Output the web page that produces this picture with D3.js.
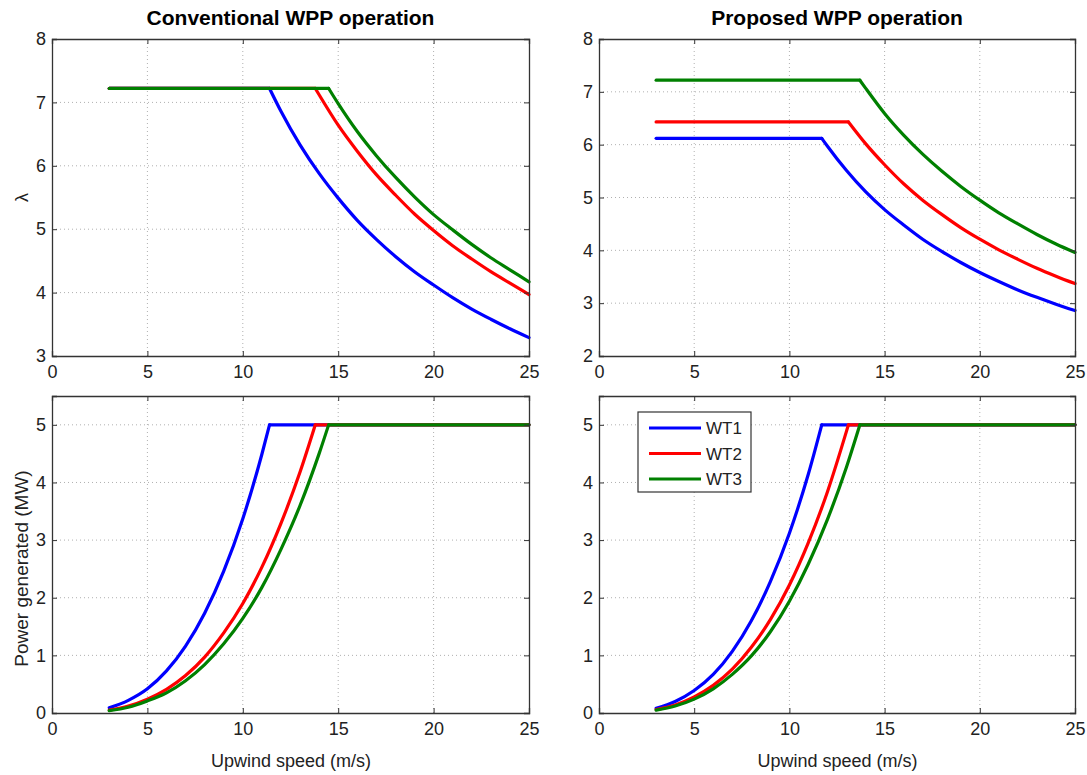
<!DOCTYPE html>
<html>
<head>
<meta charset="utf-8">
<script src="https://cdn.jsdelivr.net/npm/d3@7"></script>
<style>
  body { margin: 0; background: #fff; }
  svg { font-family: "Liberation Sans", Arial, sans-serif; }
  .grid line { stroke: #b0b0b0; stroke-width: 1; stroke-dasharray: 1,3; }
  .tick text { fill: #222; }
</style>
</head>
<body>
<script>
// upwind speed (m/s) vs tip speed ratio / power
const xTicks = [0, 5, 10, 15, 20, 25];
const lambdaTicksConv = [3, 4, 5, 6, 7, 8];
const lambdaTicksProp = [2, 3, 4, 5, 6, 7, 8];
const powerTicks = [0, 1, 2, 3, 4, 5];
const seriesNames = ["WT1", "WT2", "WT3"];
const seriesColors = ["#0000ff", "#ff0000", "#008000"];

// conventional operation - lambda
const convLambdaWT1 = [[3,7.22],[11.4,7.22],[12,6.86],[13,6.33],[14,5.88],[15,5.49],[16,5.14],[17,4.84],[18,4.57],[19,4.33],[20,4.12],[21,3.92],[22,3.74],[23,3.58],[24,3.43],[25,3.29]];
const convLambdaWT2 = [[3,7.22],[13.8,7.22],[14,7.12],[15,6.64],[16,6.23],[17,5.86],[18,5.54],[19,5.24],[20,4.98],[21,4.74],[22,4.53],[23,4.33],[24,4.15],[25,3.97]];
const convLambdaWT3 = [[3,7.22],[14.5,7.22],[15,6.98],[16,6.54],[17,6.16],[18,5.82],[19,5.51],[20,5.23],[21,4.99],[22,4.76],[23,4.55],[24,4.36],[25,4.17]];

// proposed operation - lambda
const propLambdaWT1 = [[3,6.12],[11.7,6.12],[12,5.97],[13,5.51],[14,5.11],[15,4.77],[16,4.48],[17,4.21],[18,3.98],[19,3.77],[20,3.58],[21,3.41],[22,3.25],[23,3.11],[24,2.98],[25,2.86]];
const propLambdaWT2 = [[3,6.43],[13.1,6.43],[14,6.02],[15,5.62],[16,5.26],[17,4.95],[18,4.68],[19,4.43],[20,4.21],[21,4.01],[22,3.83],[23,3.66],[24,3.51],[25,3.37]];
const propLambdaWT3 = [[3,7.22],[13.7,7.22],[14,7.07],[15,6.59],[16,6.18],[17,5.82],[18,5.50],[19,5.21],[20,4.95],[21,4.71],[22,4.50],[23,4.30],[24,4.12],[25,3.96]];

// conventional operation - power (MW)
const convPowerWT1 = [[3,0.09],[4,0.22],[5,0.42],[6,0.73],[7,1.16],[8,1.73],[9,2.46],[10,3.37],[11,4.49],[11.4,5],[25,5]];
const convPowerWT2 = [[3,0.05],[4,0.12],[5,0.24],[6,0.41],[7,0.65],[8,0.97],[9,1.39],[10,1.90],[11,2.53],[12,3.29],[13,4.18],[13.8,5],[25,5]];
const convPowerWT3 = [[3,0.04],[4,0.10],[5,0.21],[6,0.35],[7,0.56],[8,0.84],[9,1.20],[10,1.64],[11,2.18],[12,2.84],[13,3.60],[14,4.50],[14.5,5],[25,5]];

// proposed operation - power (MW)
const propPowerWT1 = [[3,0.08],[4,0.20],[5,0.39],[6,0.67],[7,1.07],[8,1.60],[9,2.28],[10,3.12],[11,4.15],[11.7,5],[25,5]];
const propPowerWT2 = [[3,0.06],[4,0.14],[5,0.28],[6,0.48],[7,0.76],[8,1.14],[9,1.62],[10,2.22],[11,2.96],[12,3.84],[13,4.89],[13.1,5],[25,5]];
const propPowerWT3 = [[3,0.05],[4,0.12],[5,0.24],[6,0.42],[7,0.67],[8,0.99],[9,1.41],[10,1.94],[11,2.59],[12,3.36],[13,4.27],[13.7,5],[25,5]];

const W = 1087, H = 775;
const svg = d3.select("body").append("svg")
    .attr("width", W)
    .attr("height", H);

const cols = [{x0: 52, x1: 529}, {x0: 599, x1: 1075}];
const rows = [{y0: 39, y1: 356}, {y0: 396, y1: 713}];

// split a series into flat runs (drawn straight) and curved runs (drawn smooth)
function splitRuns(pts) {
    const runs = [];
    let cur = [pts[0]], flat = null;
    for (let i = 1; i < pts.length; i++) {
        const f = pts[i][1] === pts[i - 1][1];
        if (flat === null || f === flat) {
            cur.push(pts[i]);
        } else {
            runs.push({flat: flat, pts: cur});
            cur = [pts[i - 1], pts[i]];
        }
        flat = f;
    }
    runs.push({flat: flat, pts: cur});
    return runs;
}

function drawPanel(col, row, yDomain, yTicks, lines) {
    const x = d3.scaleLinear().domain([0, 25]).range([col.x0, col.x1]);
    const y = d3.scaleLinear().domain(yDomain).range([row.y1, row.y0]);
    const g = svg.append("g");

    // dotted grid
    const grid = g.append("g").attr("class", "grid");
    grid.selectAll(".gx").data(xTicks.slice(1, -1)).join("line")
        .attr("x1", d => x(d)).attr("x2", d => x(d))
        .attr("y1", row.y0).attr("y2", row.y1);
    grid.selectAll(".gy").data(yTicks.filter(d => d > yDomain[0] && d < yDomain[1])).join("line")
        .attr("x1", col.x0).attr("x2", col.x1)
        .attr("y1", d => y(d)).attr("y2", d => y(d));

    // data lines
    const straight = d3.line().x(d => x(d[0])).y(d => y(d[1]));
    const smooth = d3.line().x(d => x(d[0])).y(d => y(d[1])).curve(d3.curveMonotoneX);
    lines.forEach((pts, i) => {
        splitRuns(pts).forEach(run => {
            g.append("path")
                .datum(run.pts)
                .attr("d", run.flat ? straight : smooth)
                .attr("fill", "none")
                .attr("stroke", seriesColors[i])
                .attr("stroke-width", 3.2)
                .attr("stroke-linecap", "round");
        });
    });

    // axes, MATLAB style ticks pointing inside
    const xAxis = d3.axisBottom(x).tickValues(xTicks).tickSize(-5).tickPadding(9).tickFormat(d3.format("d"));
    const yAxis = d3.axisLeft(y).tickValues(yTicks).tickSize(-5).tickPadding(6).tickFormat(d3.format("d"));
    const xa = g.append("g").attr("transform", "translate(0," + row.y1 + ")").call(xAxis);
    const ya = g.append("g").attr("transform", "translate(" + col.x0 + ",0)").call(yAxis);
    g.append("g").attr("transform", "translate(0," + row.y0 + ")")
        .call(d3.axisTop(x).tickValues(xTicks).tickSize(-5).tickFormat(""));
    g.append("g").attr("transform", "translate(" + col.x1 + ",0)")
        .call(d3.axisRight(y).tickValues(yTicks).tickSize(-5).tickFormat(""));
    g.selectAll(".domain").attr("stroke", "#333").attr("stroke-width", 1.3);
    g.selectAll(".tick line").attr("stroke", "#333");
    [xa, ya].forEach(a => a.selectAll("text")
        .style("font-size", "18px")
        .style("font-family", "Liberation Sans, Arial, sans-serif"));

    return {x, y};
}

drawPanel(cols[0], rows[0], [3, 8], lambdaTicksConv, [convLambdaWT1, convLambdaWT2, convLambdaWT3]);
drawPanel(cols[1], rows[0], [2, 8], lambdaTicksProp, [propLambdaWT1, propLambdaWT2, propLambdaWT3]);
drawPanel(cols[0], rows[1], [0, 5.5], powerTicks, [convPowerWT1, convPowerWT2, convPowerWT3]);
drawPanel(cols[1], rows[1], [0, 5.5], powerTicks, [propPowerWT1, propPowerWT2, propPowerWT3]);

// titles
svg.append("text").attr("x", (cols[0].x0 + cols[0].x1) / 2).attr("y", 25)
    .attr("text-anchor", "middle").style("font-size", "21px").style("font-weight", "bold")
    .text("Conventional WPP operation");
svg.append("text").attr("x", (cols[1].x0 + cols[1].x1) / 2).attr("y", 25)
    .attr("text-anchor", "middle").style("font-size", "21px").style("font-weight", "bold")
    .text("Proposed WPP operation");

// axis labels
svg.append("text").attr("transform", "translate(28," + ((rows[0].y0 + rows[0].y1) / 2) + ") rotate(-90)")
    .attr("text-anchor", "middle").style("font-size", "18px").attr("fill", "#222")
    .text("λ");
svg.append("text").attr("transform", "translate(28," + ((rows[1].y0 + rows[1].y1) / 2 + 14) + ") rotate(-90)")
    .attr("text-anchor", "middle").style("font-size", "19px").attr("fill", "#222")
    .text("Power generated (MW)");
cols.forEach(c => {
    svg.append("text").attr("x", (c.x0 + c.x1) / 2 + 0.5).attr("y", 767)
        .attr("text-anchor", "middle").style("font-size", "18px").attr("fill", "#222")
        .text("Upwind speed (m/s)");
});

// legend
const lg = svg.append("g").attr("transform", "translate(638,412)");
lg.append("rect").attr("width", 113).attr("height", 80)
    .attr("fill", "#fff").attr("stroke", "#333").attr("stroke-width", 1.2);
seriesNames.forEach((name, i) => {
    const yy = 16 + i * 25.5;
    lg.append("line").attr("x1", 11).attr("x2", 63).attr("y1", yy).attr("y2", yy)
        .attr("stroke", seriesColors[i]).attr("stroke-width", 3.2);
    lg.append("text").attr("x", 68).attr("y", yy + 6)
        .style("font-size", "17px").attr("fill", "#222").text(name);
});
</script>
</body>
</html>
